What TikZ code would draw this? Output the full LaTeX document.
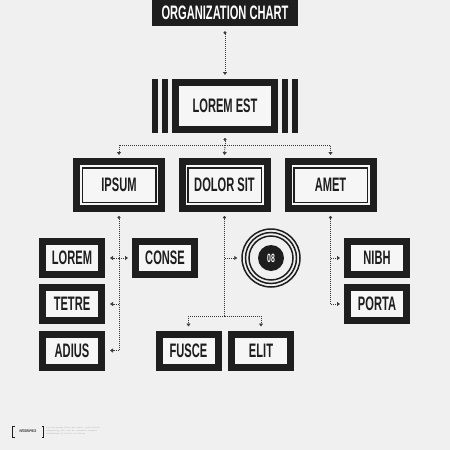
\documentclass[tikz,border=0pt]{standalone}
\usepackage{fontspec}
\usetikzlibrary{arrows.meta}
\newfontfamily\cond[FakeStretch=0.57]{Liberation Sans Bold}
\definecolor{bg}{HTML}{F0F0F0}
\definecolor{ink}{HTML}{1E1E1E}
\definecolor{paper}{HTML}{F6F6F6}
\definecolor{wire}{HTML}{3A3A3A}
\definecolor{fine}{HTML}{A8A8A8}
\tikzset{
  lbl/.style={font=\cond\fontsize{19.5}{19.5}\selectfont, text=ink},
  frame/.style={draw=ink, line width=7pt, fill=paper, inner sep=0pt},
  lvlthree/.style={frame, lbl, minimum width=59pt, minimum height=33pt},
  lvltwo/.style={frame, minimum width=85pt, minimum height=47pt},
  lvltwoin/.style={draw=ink, line width=1.5pt, fill=paper, inner sep=0pt, lbl, minimum width=73.5pt, minimum height=34.5pt},
  conn/.style={draw=wire, line width=0.8pt, dash pattern=on 1pt off 1pt},
  tipend/.style={-{Triangle[length=3pt,width=4pt]}},
  dotend/.style={{Circle[length=3pt]}-{Triangle[length=3pt,width=4pt]}},
  dotonly/.style={{Circle[length=3pt]}-},
  bar/.style={fill=ink},
}
\begin{document}
\begin{tikzpicture}[x=1pt,y=-1pt]
\useasboundingbox (0,0) rectangle (450,450);
\fill[bg] (0,0) rectangle (450,450);

% title
\node[fill=ink, text=white, font=\cond\fontsize{19.5}{19.5}\selectfont, minimum width=146pt, minimum height=26pt, inner sep=0pt] (title) at (225,13) {ORGANIZATION CHART};

% top box
\node[frame, lbl, minimum width=99pt, minimum height=47pt] (loremest) at (225,106) {LOREM EST};
\fill[bar] (152,79) rectangle (158,133);
\fill[bar] (162,79) rectangle (168,133);
\fill[bar] (282,79) rectangle (288,133);
\fill[bar] (292,79) rectangle (298,133);

% level two
\node[lvltwo] (ipsumF) at (119,185) {};
\node[lvltwoin] (ipsum) at (119,185) {IPSUM};
\node[lvltwo] (dolorF) at (224.5,185) {};
\node[lvltwoin] (dolor) at (224.5,185) {DOLOR SIT};
\node[lvltwo] (ametF) at (330.5,185) {};
\node[lvltwoin] (amet) at (330.5,185) {AMET};

% level three
\node[lvlthree] (lorem) at (72,258) {LOREM};
\node[lvlthree] (tetre) at (72,304) {TETRE};
\node[lvlthree] (adius) at (72,350.5) {ADIUS};
\node[lvlthree] (conse) at (165,258) {CONSE};
\node[lvlthree] (fusce) at (188.5,350.5) {FUSCE};
\node[lvlthree] (elit) at (261,350.5) {ELIT};
\node[lvlthree] (nibh) at (377,258) {NIBH};
\node[lvlthree] (porta) at (377,304) {PORTA};

% ring
\node[draw=ink, line width=1.5pt, circle, minimum size=58pt, inner sep=0pt] (ring) at (271,258) {};
\draw[ink, line width=1.5pt] (ring.center) circle (25.5);
\draw[ink, line width=1.5pt] (ring.center) circle (22);
\node[fill=ink, circle, minimum size=26pt, inner sep=0pt, text=white, font=\cond\fontsize{12}{12}\selectfont] (num) at (ring.center) {08};

% connectors
\draw[conn, dotend] ([yshift=-5pt]title.south) -- ([yshift=4pt]loremest.north);
\coordinate (busA) at (225,145);
\draw[conn, dotonly] ([yshift=-5pt]loremest.south) -- (busA);
\draw[conn, tipend] (busA) -| ([yshift=3pt]ipsumF.north);
\draw[conn, tipend] (busA) -| ([yshift=3pt]ametF.north);
\draw[conn, tipend] (busA) -- ([yshift=3pt]dolorF.north);

% left branch
\draw[conn, dotend] ([yshift=-4pt]ipsumF.south) |- ([xshift=5pt]adius.east);
\draw[conn, tipend] (ipsumF.south |- lorem.east) -- ([xshift=5pt]lorem.east);
\draw[conn, tipend] (ipsumF.south |- lorem.east) -- ([xshift=-4pt]conse.west);
\draw[conn, tipend] (ipsumF.south |- tetre.east) -- ([xshift=5pt]tetre.east);

% middle branch
\coordinate (busB) at (224.5,316);
\draw[conn, dotonly] ([yshift=-4pt]dolorF.south) -- (busB);
\draw[conn, tipend] (busB) -| ([yshift=4pt]fusce.north);
\draw[conn, tipend] (busB) -| ([yshift=4pt]elit.north);
\draw[conn, tipend] (dolorF.south |- ring.west) -- ([xshift=-4pt]ring.west);

% right branch
\draw[conn, dotend] ([yshift=-4pt]ametF.south) |- ([xshift=-4pt]porta.west);
\draw[conn, tipend] (ametF.south |- nibh.west) -- ([xshift=-4pt]nibh.west);

% footer
\node[font=\cond\fontsize{3.8}{3.8}\selectfont, text=ink, inner sep=0pt] (badge) at (28,431.5) {INFOGRAPHICS};
\draw[ink, line width=0.8pt] (14.5,426) -- (12.5,426) -- (12.5,437) -- (14.5,437);
\draw[ink, line width=0.8pt] (41.5,426) -- (43.5,426) -- (43.5,437) -- (41.5,437);
\node[font=\fontsize{2.2}{3}\selectfont, text=fine, inner sep=0pt, align=left, anchor=north west] (ftxt) at (46,426.5) {Lorem ipsum dolor sit amet, consectetur\\adipiscing elit, sed do eiusmod tempor\\incididunt ut labore et dolore};
\end{tikzpicture}
\end{document}
